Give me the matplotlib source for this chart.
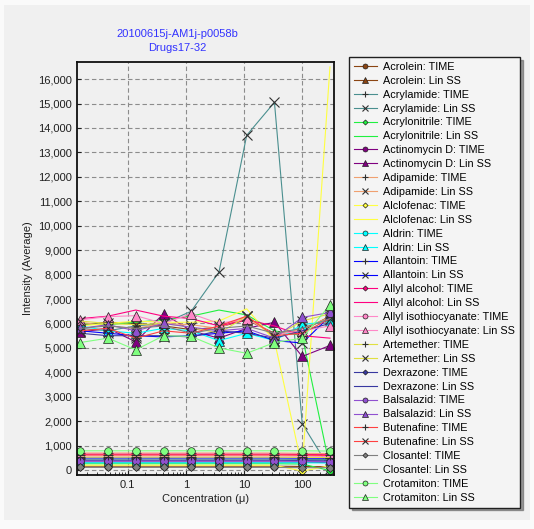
import matplotlib
matplotlib.use("Agg")
import matplotlib.pyplot as plt
from matplotlib.ticker import FuncFormatter, FixedLocator, LogLocator, NullFormatter
from matplotlib.patches import Rectangle

plt.rcParams['font.family'] = ['Liberation Sans', 'DejaVu Sans']

conc = [0.0152, 0.0457, 0.137, 0.412, 1.23, 3.70, 11.1, 33.3, 100, 300]

drugs = ["Acrolein", "Acrylamide", "Acrylonitrile", "Actinomycin D", "Adipamide",
         "Alclofenac", "Aldrin", "Allantoin", "Allyl alcohol", "Allyl isothiocyanate",
         "Artemether", "Dexrazone", "Balsalazid", "Butenafine", "Closantel", "Crotamiton"]

time_vals = [
    [160, 160, 160, 160, 160, 160, 160, 160, 150, 140],
    [450, 450, 450, 455, 450, 450, 450, 450, 440, 430],
    [260, 260, 260, 260, 260, 260, 260, 260, 250, -20],
    [330, 330, 330, 330, 330, 330, 330, 330, 320, 310],
    [700, 700, 700, 700, 700, 700, 700, 700, 690, 680],
    [200, 200, 200, 200, 200, 200, 200, 200, -40, 180],
    [300, 300, 300, 300, 300, 300, 300, 300, 300, 290],
    [500, 500, 500, 500, 500, 500, 500, 500, 490, 480],
    [650, 650, 650, 650, 650, 650, 650, 650, 640, 630],
    [580, 580, 580, 580, 580, 580, 580, 580, 570, 560],
    [530, 530, 530, 530, 530, 530, 530, 530, 520, 510],
    [400, 400, 400, 400, 400, 400, 400, 400, 390, 380],
    [370, 370, 370, 370, 370, 370, 370, 370, 360, 350],
    [620, 620, 620, 620, 620, 620, 620, 620, 610, 600],
    [110, 110, 110, 110, 110, 110, 110, 110, 100, 100],
    [790, 790, 790, 790, 790, 790, 790, 790, 790, 780],
]

linss_vals = [
    [5950, 6050, 6000, 5900, 5750, 5850, 6150, 5600, 5700, 6300],
    [5800, 5700, 5900, 6000, 6500, 8100, 13700, 15050, 1900, 50],
    [6000, 5950, 6050, 6150, 6300, 6550, 6350, 5700, 5500, 100],
    [5650, 5800, 5250, 6400, 5700, 5400, 5800, 6050, 4650, 5100],
    [6050, 5900, 5800, 6000, 5950, 5800, 6300, 5500, 5800, 6250],
    [5900, 6000, 6100, 6050, 6050, 6100, 6600, 5300, 100, 16500],
    [5900, 5700, 5600, 5800, 5700, 5300, 5600, 5300, 5950, 6100],
    [5700, 5600, 5500, 5450, 5500, 5600, 5700, 5300, 5200, 6300],
    [6200, 6300, 6550, 6300, 6200, 5900, 6150, 5900, 5500, 5400],
    [6150, 6280, 6320, 6000, 6400, 6000, 6200, 5550, 5700, 5900],
    [6100, 6000, 5950, 6000, 5850, 5600, 6300, 5450, 6100, 6400],
    [5600, 5500, 5500, 5500, 5450, 5700, 5600, 5400, 5700, 6000],
    [5800, 5950, 5700, 6000, 5850, 5700, 5800, 5400, 6250, 6450],
    [5700, 5800, 5400, 5700, 5600, 5900, 6300, 5500, 5600, 6200],
    [5800, 5900, 5800, 5900, 5600, 5800, 5900, 5600, 5800, 6200],
    [5220, 5400, 4920, 5500, 5470, 5000, 4780, 5220, 5400, 6760],
]

colors = ['#8B4513', '#4A8F8F', '#20F040', '#800080', '#F0A070', '#FFFF40', '#00FFFF',
          '#0000FF', '#FF0080', '#FF88C8', '#E0E040', '#3838A0', '#9050D0', '#FF4040',
          '#808080', '#80FF80']
time_markers = ['o', '+', 'D', 'o', '+', 'D', 'o', '+', 'D', 'o', '+', 'D', 'o', '+', 'D', 'o']
ls_markers = {'o': '^', '+': 'x', 'D': None}

W, H = 534, 529
fig = plt.figure(figsize=(W / 100, H / 100), dpi=100)
fig.patch.set_facecolor('#FAFAFA')
fig.patches.append(Rectangle((4 / W, 9 / H), 526 / W, 515 / H, transform=fig.transFigure,
                             facecolor='#F0F0F0', edgecolor='none', zorder=-10))

ax = fig.add_axes([77 / W, 1 - 475 / H, 257 / W, 413 / H])
ax.set_facecolor('#F0F0F0')


def mstyle(m):
    if m in ('+', 'x'):
        return dict(marker=m, markersize=7, markeredgecolor='#303030', markeredgewidth=0.8)
    if m == 'D':
        return dict(marker=m, markersize=4, markeredgecolor='#202020', markeredgewidth=0.5)
    if m == 'o':
        return dict(marker=m, markersize=5.5, markeredgecolor='#202020', markeredgewidth=0.5)
    if m == '^':
        return dict(marker=m, markersize=7, markeredgecolor='#202020', markeredgewidth=0.5)
    return dict(marker=None)


for i, d in enumerate(drugs):
    c = colors[i]
    tm = time_markers[i]
    ax.plot(conc, time_vals[i], color=c, lw=0.8, markerfacecolor=c,
            label=d + ": TIME", **mstyle(tm))
    lm = ls_markers[tm]
    ax.plot(conc, linss_vals[i], color=c, lw=0.8, markerfacecolor=c,
            label=d + ": Lin SS", **mstyle(lm))

ax.set_xscale('log')
ax.set_xlim(0.0134, 352)
ax.set_ylim(-200, 16700)
ax.xaxis.set_major_locator(FixedLocator([0.1, 1, 10, 100]))
ax.xaxis.set_major_formatter(FuncFormatter(lambda v, p: '%g' % v))
ax.xaxis.set_minor_locator(LogLocator(base=10, subs=range(2, 10), numticks=20))
ax.xaxis.set_minor_formatter(NullFormatter())
ax.set_yticks(range(0, 17000, 1000))
ax.yaxis.set_major_formatter(FuncFormatter(lambda v, p: '{:,.0f}'.format(v)))
ax.tick_params(axis='both', which='both', direction='in', labelsize=8, colors='#202020')
ax.tick_params(axis='x', which='major', length=4)
ax.tick_params(axis='x', which='minor', length=2)
ax.tick_params(axis='y', length=3)
ax.grid(True, which='major', color='#8C8C8C', linestyle=(0, (4, 2.5)), linewidth=0.8)
for s in ax.spines.values():
    s.set_linewidth(1.3)
    s.set_color('#101010')

ax.set_xlabel('Concentration (μ)', fontsize=8, color='#202020', labelpad=3)
ax.set_ylabel('Intensity (Average)', fontsize=8, color='#202020', labelpad=4)

fig.text(177 / W, 1 - 34 / H, '20100615j-AM1j-p0058b', ha='center', va='center',
         fontsize=8, color='#3333FF')
fig.text(177 / W, 1 - 48 / H, 'Drugs17-32', ha='center', va='center',
         fontsize=8, color='#3333FF')

leg = ax.legend(loc='upper left', bbox_to_anchor=(349 / W, 1 - 57 / H),
                bbox_transform=fig.transFigure, borderaxespad=0, fontsize=7.8,
                labelspacing=0.36, handlelength=2.1, handletextpad=0.6,
                borderpad=0.45, markerscale=0.65, fancybox=False,
                shadow={'color': '#606060', 'alpha': 0.6},
                framealpha=1, facecolor='#F4F4F4', edgecolor='#202020')
leg.get_frame().set_linewidth(1.0)

fig.savefig('out.png', dpi=100, facecolor=fig.get_facecolor())
